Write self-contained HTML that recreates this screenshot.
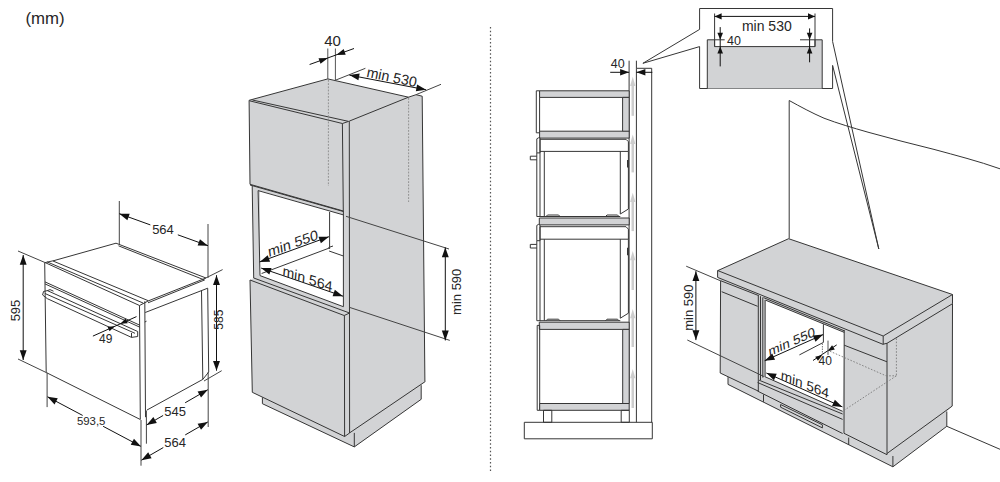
<!DOCTYPE html>
<html><head><meta charset="utf-8"><style>
html,body{margin:0;padding:0;background:#fff;width:1000px;height:482px;overflow:hidden}
svg{display:block}
text{font-family:"Liberation Sans",sans-serif}
</style></head><body>
<svg width="1000" height="482" viewBox="0 0 1000 482">
<text x="45" y="18.6" font-size="16.8" text-anchor="middle" dominant-baseline="central" fill="#262626">(mm)</text>
<line x1="18" y1="251" x2="44.7" y2="262.4" stroke="#444" stroke-width="1.0"/>
<line x1="18" y1="359" x2="46.2" y2="372.5" stroke="#444" stroke-width="1.0"/>
<line x1="23.2" y1="255" x2="23.2" y2="360" stroke="#111" stroke-width="1.0"/>
<polygon points="23.2,360 19.75,350.2 26.65,350.2" fill="#111"/>
<polygon points="23.2,255 26.65,264.8 19.75,264.8" fill="#111"/>
<text x="15.8" y="310.5" font-size="13" text-anchor="middle" dominant-baseline="central" fill="#262626" transform="rotate(-90 15.8 310.5)">595</text>
<line x1="44.7" y1="262.4" x2="46.2" y2="372.5" stroke="#363636" stroke-width="1.0"/>
<line x1="46.2" y1="372.5" x2="140.3" y2="419.5" stroke="#363636" stroke-width="1.0"/>
<line x1="44.7" y1="262.4" x2="139.5" y2="305.5" stroke="#363636" stroke-width="1.0"/>
<line x1="47.2" y1="261.9" x2="143" y2="303" stroke="#363636" stroke-width="1.0"/>
<line x1="53" y1="261" x2="148.5" y2="300.8" stroke="#363636" stroke-width="1.0"/>
<polyline points="139.5,305.5 140.3,419.5" fill="none" stroke="#363636" stroke-width="1.0" stroke-linejoin="round"/>
<polyline points="144.8,301.3 145.5,417.2" fill="none" stroke="#363636" stroke-width="1.0" stroke-linejoin="round"/>
<polyline points="139.5,305.5 148.5,300.8" fill="none" stroke="#363636" stroke-width="1.0" stroke-linejoin="round"/>
<line x1="45" y1="281.9" x2="139.8" y2="325.2" stroke="#363636" stroke-width="1.0"/>
<line x1="45" y1="283.9" x2="139.8" y2="327.2" stroke="#363636" stroke-width="1.0"/>
<line x1="144.8" y1="322" x2="146.5" y2="321.2" stroke="#363636" stroke-width="1.0"/>
<line x1="45" y1="262.6" x2="54" y2="260.6" stroke="#363636" stroke-width="1.0"/>
<line x1="54" y1="260.6" x2="116" y2="243.2" stroke="#363636" stroke-width="1.0"/>
<line x1="116" y1="243.2" x2="206" y2="278" stroke="#363636" stroke-width="1.0"/>
<line x1="118.5" y1="245.8" x2="204.5" y2="280" stroke="#363636" stroke-width="1.0"/>
<line x1="206" y1="278" x2="148.5" y2="300.8" stroke="#363636" stroke-width="1.0"/>
<line x1="204.5" y1="280" x2="148" y2="302.8" stroke="#363636" stroke-width="1.0"/>
<line x1="145.2" y1="312.5" x2="207.7" y2="288.2" stroke="#363636" stroke-width="1.0"/>
<line x1="201.5" y1="290.7" x2="202.8" y2="379.4" stroke="#363636" stroke-width="1.0"/>
<line x1="207.7" y1="288.2" x2="208.7" y2="372" stroke="#363636" stroke-width="1.0"/>
<line x1="147" y1="410" x2="202.8" y2="379.4" stroke="#363636" stroke-width="1.0"/>
<line x1="202.8" y1="379.4" x2="208.7" y2="372" stroke="#363636" stroke-width="1.0"/>
<polyline points="47.4,290.6 137.7,331.5" fill="none" stroke="#363636" stroke-width="1.0" stroke-linejoin="round"/>
<polyline points="45,293.5 135,333.3" fill="none" stroke="#363636" stroke-width="1.0" stroke-linejoin="round"/>
<polyline points="47.4,298.7 131.5,337.4" fill="none" stroke="#363636" stroke-width="1.0" stroke-linejoin="round"/>
<polyline points="47.4,290.6 43.5,291.5 42.6,295 47.4,298.7" fill="none" stroke="#363636" stroke-width="1.0" stroke-linejoin="round"/>
<polyline points="137.7,331.5 137.7,336.5 131.5,337.4 131.5,333" fill="none" stroke="#363636" stroke-width="1.0" stroke-linejoin="round"/>
<polyline points="47,290.8 50,289.6 53.5,291.2" fill="none" stroke="#363636" stroke-width="1.0" stroke-linejoin="round"/>
<line x1="92.9" y1="336.1" x2="136.5" y2="316.6" stroke="#111" stroke-width="1.0"/>
<polygon points="114.9,326.2 109.52,331.33 107.49,326.76" fill="#111"/>
<polygon points="120.3,323.7 125.68,318.57 127.71,323.14" fill="#111"/>
<text x="105.7" y="339" font-size="12" text-anchor="middle" dominant-baseline="central" fill="#262626">49</text>
<line x1="119.3" y1="201" x2="119.3" y2="244" stroke="#444" stroke-width="1.0"/>
<line x1="208" y1="224" x2="208" y2="278" stroke="#444" stroke-width="1.0"/>
<line x1="119.3" y1="213.7" x2="150.34" y2="224.9" stroke="#111" stroke-width="1.0"/>
<line x1="177.84" y1="234.82" x2="208" y2="245.7" stroke="#111" stroke-width="1.0"/>
<polygon points="208,245.7 197.61,245.62 199.95,239.13" fill="#111"/>
<polygon points="119.3,213.7 129.69,213.78 127.35,220.27" fill="#111"/>
<text x="163" y="229.2" font-size="13" text-anchor="middle" dominant-baseline="central" fill="#262626">564</text>
<line x1="205.8" y1="278" x2="222.6" y2="269.6" stroke="#444" stroke-width="1.0"/>
<line x1="204" y1="381" x2="221.7" y2="370.7" stroke="#444" stroke-width="1.0"/>
<line x1="216.5" y1="275.2" x2="216.5" y2="370.7" stroke="#111" stroke-width="1.0"/>
<polygon points="216.5,370.7 213.05,360.9 219.95,360.9" fill="#111"/>
<polygon points="216.5,275.2 219.95,285 213.05,285" fill="#111"/>
<text x="219.2" y="319.6" font-size="12" text-anchor="middle" dominant-baseline="central" fill="#262626" transform="rotate(-90 219.2 319.6)">585</text>
<line x1="47.1" y1="372.8" x2="47.1" y2="407.1" stroke="#444" stroke-width="1.0"/>
<line x1="47.5" y1="396.8" x2="82.66" y2="415.45" stroke="#111" stroke-width="1.0"/>
<line x1="103.13" y1="426.31" x2="141" y2="446.4" stroke="#111" stroke-width="1.0"/>
<polygon points="141,446.4 130.73,444.86 133.96,438.76" fill="#111"/>
<polygon points="47.5,396.8 57.77,398.34 54.54,404.44" fill="#111"/>
<text x="91.2" y="420.9" font-size="11.4" text-anchor="middle" dominant-baseline="central" fill="#262626">593,5</text>
<line x1="141" y1="420" x2="141" y2="465.7" stroke="#444" stroke-width="1.0"/>
<line x1="146.4" y1="410.5" x2="146.4" y2="443.7" stroke="#444" stroke-width="1.0"/>
<line x1="208.2" y1="372" x2="208.2" y2="427" stroke="#444" stroke-width="1.0"/>
<line x1="146.6" y1="425" x2="163.12" y2="415.47" stroke="#111" stroke-width="1.0"/>
<line x1="185.16" y1="402.76" x2="207.8" y2="389.7" stroke="#111" stroke-width="1.0"/>
<polygon points="207.8,389.7 201.03,397.58 197.59,391.61" fill="#111"/>
<polygon points="146.6,425 153.37,417.12 156.81,423.09" fill="#111"/>
<text x="175.2" y="411.4" font-size="13" text-anchor="middle" dominant-baseline="central" fill="#262626">545</text>
<line x1="141.4" y1="460.2" x2="163.31" y2="447.56" stroke="#111" stroke-width="1.0"/>
<line x1="185.22" y1="434.92" x2="207.8" y2="421.9" stroke="#111" stroke-width="1.0"/>
<polygon points="207.8,421.9 201.03,429.79 197.59,423.81" fill="#111"/>
<polygon points="141.4,460.2 148.17,452.31 151.61,458.29" fill="#111"/>
<text x="175.2" y="442" font-size="13" text-anchor="middle" dominant-baseline="central" fill="#262626">564</text>
<polygon points="249.1,100.3 327.8,78.9 408.5,97.2 416,94.7 422.2,96.2 424.9,381.5 420.8,385.6 421.2,399.3 354.3,446.9 262.4,403.7 262.4,397.5 252.3,392.3 250,280 253.7,278 252.2,185.6 250,184.3" fill="#d2d3d5"/>
<polygon points="260,190.8 343.4,214.9 343.4,306.7 260,275.6" fill="#ffffff"/>
<polyline points="249.1,100.3 327.8,78.9 408.5,97.2 349.3,121.1" fill="none" stroke="#363636" stroke-width="1.0" stroke-linejoin="round"/>
<polyline points="408.5,97.2 416,94.7 422.2,96.2 424.9,381.5" fill="none" stroke="#363636" stroke-width="1.0" stroke-linejoin="round"/>
<line x1="249.5" y1="100.8" x2="342.4" y2="123.5" stroke="#363636" stroke-width="1.0"/>
<line x1="252.4" y1="100" x2="348.6" y2="121.4" stroke="#363636" stroke-width="1.0"/>
<line x1="342.4" y1="123.5" x2="348.6" y2="121.4" stroke="#363636" stroke-width="1.0"/>
<line x1="249.1" y1="100.3" x2="250" y2="184.3" stroke="#363636" stroke-width="1.0"/>
<line x1="342.4" y1="123.5" x2="343.3" y2="211" stroke="#363636" stroke-width="1.0"/>
<line x1="349.3" y1="121.1" x2="349.6" y2="433" stroke="#363636" stroke-width="1.0"/>
<line x1="250" y1="184.3" x2="343.3" y2="211" stroke="#363636" stroke-width="1.0"/>
<line x1="328.4" y1="80" x2="328.4" y2="186" stroke="#8a8a8a" stroke-width="0.9" stroke-dasharray="1.8 1.4"/>
<line x1="408.6" y1="98" x2="408.6" y2="202" stroke="#8a8a8a" stroke-width="0.9" stroke-dasharray="1.8 1.4"/>
<line x1="252.2" y1="185.6" x2="253.7" y2="278" stroke="#363636" stroke-width="1.0"/>
<line x1="258.1" y1="190.6" x2="260" y2="275.6" stroke="#363636" stroke-width="1.0"/>
<line x1="258.1" y1="190.6" x2="343.4" y2="214.9" stroke="#363636" stroke-width="1.0"/>
<line x1="250" y1="185" x2="343.3" y2="211.5" stroke="#363636" stroke-width="1.0"/>
<line x1="329.6" y1="212" x2="329.6" y2="249" stroke="#363636" stroke-width="1.0"/>
<line x1="261.6" y1="273.5" x2="329.1" y2="248.1" stroke="#363636" stroke-width="1.0"/>
<line x1="329.1" y1="251" x2="343.4" y2="256" stroke="#363636" stroke-width="1.0"/>
<line x1="328.5" y1="247.5" x2="333" y2="246" stroke="#363636" stroke-width="1.0"/>
<line x1="343.4" y1="211" x2="343.4" y2="306.7" stroke="#363636" stroke-width="1.0"/>
<line x1="260" y1="275.6" x2="343.4" y2="306.7" stroke="#363636" stroke-width="1.0"/>
<line x1="250" y1="280" x2="344.2" y2="315.5" stroke="#363636" stroke-width="1.0"/>
<line x1="253.7" y1="278" x2="349.6" y2="313" stroke="#363636" stroke-width="1.0"/>
<line x1="344.2" y1="315.5" x2="349.6" y2="313" stroke="#363636" stroke-width="1.0"/>
<line x1="250" y1="280" x2="252.3" y2="392.3" stroke="#363636" stroke-width="1.0"/>
<line x1="252.3" y1="392.3" x2="344.6" y2="436.5" stroke="#363636" stroke-width="1.0"/>
<line x1="344.4" y1="315.5" x2="344.6" y2="436.5" stroke="#363636" stroke-width="1.0"/>
<line x1="344.6" y1="436.5" x2="349.6" y2="433" stroke="#363636" stroke-width="1.0"/>
<line x1="262.4" y1="397.5" x2="262.4" y2="403.7" stroke="#363636" stroke-width="1.0"/>
<line x1="262.4" y1="403.7" x2="354.3" y2="446.9" stroke="#363636" stroke-width="1.0"/>
<line x1="354.3" y1="432.9" x2="354.3" y2="446.9" stroke="#363636" stroke-width="1.0"/>
<line x1="349.6" y1="432.9" x2="425.3" y2="381.5" stroke="#363636" stroke-width="1.0"/>
<line x1="421.2" y1="385.2" x2="421.2" y2="399.3" stroke="#363636" stroke-width="1.0"/>
<line x1="421.2" y1="399.3" x2="354.3" y2="446.9" stroke="#363636" stroke-width="1.0"/>
<line x1="327.8" y1="48.5" x2="327.8" y2="79" stroke="#555" stroke-width="1.0"/>
<line x1="335.4" y1="48.5" x2="335.4" y2="80.5" stroke="#555" stroke-width="1.0"/>
<line x1="309.6" y1="64.5" x2="354" y2="48.5" stroke="#111" stroke-width="1.0"/>
<polygon points="328,58 320.55,63.87 318.52,58.23" fill="#111"/>
<polygon points="336.2,54.9 343.65,49.03 345.68,54.67" fill="#111"/>
<text x="332.6" y="40.3" font-size="15" text-anchor="middle" dominant-baseline="central" fill="#262626">40</text>
<line x1="334.7" y1="80.5" x2="365.4" y2="68.3" stroke="#444" stroke-width="1.0"/>
<line x1="416" y1="94.7" x2="441" y2="84.3" stroke="#444" stroke-width="1.0"/>
<line x1="349.4" y1="75.1" x2="426.1" y2="89.8" stroke="#111" stroke-width="1.0"/>
<polygon points="426.1,89.8 415.83,91.34 417.12,84.57" fill="#111"/>
<polygon points="349.4,75.1 359.67,73.56 358.38,80.33" fill="#111"/>
<text x="0" y="0" font-size="14" text-anchor="middle" dominant-baseline="central" fill="#262626" transform="matrix(1 0.21 -0.2 1 391.8 77)">min 530</text>
<line x1="259.7" y1="261.9" x2="328.9" y2="236.7" stroke="#111" stroke-width="1.0"/>
<polygon points="328.9,236.7 320.87,243.3 318.51,236.81" fill="#111"/>
<polygon points="259.7,261.9 267.73,255.3 270.09,261.79" fill="#111"/>
<text x="0" y="0" font-size="14" text-anchor="middle" dominant-baseline="central" fill="#262626" transform="matrix(1 -0.36 0.14 1 293 243.3)">min 550</text>
<line x1="261.2" y1="268.1" x2="343" y2="296.2" stroke="#111" stroke-width="1.0"/>
<polygon points="343,296.2 332.61,296.28 334.85,289.75" fill="#111"/>
<polygon points="261.2,268.1 271.59,268.02 269.35,274.55" fill="#111"/>
<text x="0" y="0" font-size="14" text-anchor="middle" dominant-baseline="central" fill="#262626" transform="matrix(1 0.33 -0.09 1 307.5 278.7)">min 564</text>
<line x1="346" y1="216.3" x2="449" y2="249" stroke="#444" stroke-width="1.0"/>
<line x1="349.6" y1="307.4" x2="449.8" y2="340.4" stroke="#444" stroke-width="1.0"/>
<line x1="445.3" y1="247.4" x2="445.3" y2="340.4" stroke="#111" stroke-width="1.0"/>
<polygon points="445.3,340.4 441.85,330.6 448.75,330.6" fill="#111"/>
<polygon points="445.3,247.4 448.75,257.2 441.85,257.2" fill="#111"/>
<text x="456.3" y="291.8" font-size="13" text-anchor="middle" dominant-baseline="central" fill="#262626" transform="rotate(-90 456.3 291.8)">min 590</text>
<line x1="490.5" y1="27" x2="490.5" y2="472" stroke="#555" stroke-width="1.2" stroke-dasharray="1.6 2.15"/>
<polyline points="636.4,422.3 636.4,68.3 651.7,68.3 651.7,422.3" fill="none" stroke="#363636" stroke-width="1.0" stroke-linejoin="round"/>
<line x1="636.4" y1="60.7" x2="636.4" y2="68.3" stroke="#363636" stroke-width="1.0"/>
<line x1="629.1" y1="60.7" x2="629.1" y2="403.5" stroke="#363636" stroke-width="1.0"/>
<line x1="610.2" y1="72.3" x2="629.1" y2="72.3" stroke="#111" stroke-width="1.0"/>
<polygon points="629.1,72.3 620.1,75.5 620.1,69.1" fill="#111"/>
<line x1="652.3" y1="72.3" x2="636.4" y2="72.3" stroke="#111" stroke-width="1.0"/>
<polygon points="636.4,72.3 645.4,69.1 645.4,75.5" fill="#111"/>
<text x="617.8" y="63.8" font-size="12.5" text-anchor="middle" dominant-baseline="central" fill="#262626">40</text>
<line x1="642.9" y1="63.3" x2="699.6" y2="29.4" stroke="#363636" stroke-width="1.0"/>
<line x1="642.9" y1="63.3" x2="699.6" y2="46.6" stroke="#363636" stroke-width="1.0"/>
<rect x="631.5" y="84.8" width="2.5" height="31.0" fill="#cdcdcd"/>
<polygon points="632.75,76.8 635.4,86.1 630.1,86.1" fill="#cdcdcd"/>
<rect x="631.5" y="142.6" width="2.5" height="29.80000000000001" fill="#cdcdcd"/>
<polygon points="632.75,134.6 635.4,143.9 630.1,143.9" fill="#cdcdcd"/>
<rect x="631.5" y="200.8" width="2.5" height="30.299999999999983" fill="#cdcdcd"/>
<polygon points="632.75,192.8 635.4,202.10000000000002 630.1,202.10000000000002" fill="#cdcdcd"/>
<rect x="631.5" y="259" width="2.5" height="31" fill="#cdcdcd"/>
<polygon points="632.75,251 635.4,260.3 630.1,260.3" fill="#cdcdcd"/>
<rect x="631.5" y="317" width="2.5" height="30" fill="#cdcdcd"/>
<polygon points="632.75,309 635.4,318.3 630.1,318.3" fill="#cdcdcd"/>
<rect x="631.5" y="377" width="2.5" height="31" fill="#cdcdcd"/>
<polygon points="632.75,369 635.4,378.3 630.1,378.3" fill="#cdcdcd"/>
<polygon points="536.3,90.8 539.6,90.8 539.6,132.8 536.3,132.8" fill="none" stroke="#363636" stroke-width="1.0" stroke-linejoin="round"/>
<polygon points="539.6,90.8 629.2,90.8 629.2,97.4 539.6,97.4" fill="#d2d3d5" stroke="#363636" stroke-width="1.0" stroke-linejoin="round"/>
<polygon points="622.6,97.4 629.2,97.4 629.2,131.5 622.6,131.5" fill="#d2d3d5" stroke="#363636" stroke-width="1.0" stroke-linejoin="round"/>
<polygon points="539.6,131.2 629.2,131.2 629.2,138.1 539.6,138.1" fill="#d2d3d5" stroke="#363636" stroke-width="1.0" stroke-linejoin="round"/>
<polygon points="536.8,138.8 538.5,137.8 540,137.8 540,152.9 536.8,152.9" fill="none" stroke="#363636" stroke-width="1.0" stroke-linejoin="round"/>
<polyline points="536.8,152.9 536.8,216.5 540,216.5" fill="none" stroke="#363636" stroke-width="1.0" stroke-linejoin="round"/>
<polygon points="540,139.3 626,139.3 628.4,141.7 628.4,151.4 540,151.4" fill="none" stroke="#363636" stroke-width="1.0" stroke-linejoin="round"/>
<line x1="540" y1="151.4" x2="540" y2="217" stroke="#363636" stroke-width="1.0"/>
<line x1="544.3" y1="151.4" x2="544.3" y2="216.5" stroke="#363636" stroke-width="1.0"/>
<polyline points="620.3,151.4 620.3,214 628.4,209 628.4,151.4" fill="none" stroke="#363636" stroke-width="1.0" stroke-linejoin="round"/>
<line x1="540" y1="216.5" x2="620.3" y2="216.5" stroke="#363636" stroke-width="1.0"/>
<polyline points="546,216.5 547.5,215 558.6,215 560,216.5" fill="none" stroke="#363636" stroke-width="1.0" stroke-linejoin="round"/>
<polyline points="605.5,216.5 607,215 617.5,215 619,216.5" fill="none" stroke="#363636" stroke-width="1.0" stroke-linejoin="round"/>
<line x1="627.7" y1="159.9" x2="627.7" y2="167.4" stroke="#363636" stroke-width="1.4"/>
<polyline points="536.8,156.2 530.3,156.2 530.3,159.8 536.8,159.8" fill="none" stroke="#363636" stroke-width="1.0" stroke-linejoin="round"/>
<polygon points="536.8,225.4 538.5,224.4 540,224.4 540,240.7 536.8,240.7" fill="none" stroke="#363636" stroke-width="1.0" stroke-linejoin="round"/>
<polyline points="536.8,240.7 536.8,320.7 540,320.7" fill="none" stroke="#363636" stroke-width="1.0" stroke-linejoin="round"/>
<polygon points="540,226.7 626,226.7 628.4,229.1 628.4,239.2 540,239.2" fill="none" stroke="#363636" stroke-width="1.0" stroke-linejoin="round"/>
<line x1="540" y1="239.2" x2="540" y2="321.2" stroke="#363636" stroke-width="1.0"/>
<line x1="544.3" y1="239.2" x2="544.3" y2="320.7" stroke="#363636" stroke-width="1.0"/>
<polyline points="620.3,239.2 620.3,318.2 628.4,313.2 628.4,239.2" fill="none" stroke="#363636" stroke-width="1.0" stroke-linejoin="round"/>
<line x1="540" y1="320.7" x2="620.3" y2="320.7" stroke="#363636" stroke-width="1.0"/>
<polyline points="546,320.7 547.5,319.2 558.6,319.2 560,320.7" fill="none" stroke="#363636" stroke-width="1.0" stroke-linejoin="round"/>
<polyline points="605.5,320.7 607,319.2 617.5,319.2 619,320.7" fill="none" stroke="#363636" stroke-width="1.0" stroke-linejoin="round"/>
<line x1="627.7" y1="247.7" x2="627.7" y2="255.2" stroke="#363636" stroke-width="1.4"/>
<polyline points="536.8,244.4 530.3,244.4 530.3,248 536.8,248" fill="none" stroke="#363636" stroke-width="1.0" stroke-linejoin="round"/>
<polygon points="539.3,218 629.2,218 629.2,224.9 539.3,224.9" fill="#d2d3d5" stroke="#363636" stroke-width="1.0" stroke-linejoin="round"/>
<polygon points="539.3,322.2 629.2,322.2 629.2,329.4 539.3,329.4" fill="#d2d3d5" stroke="#363636" stroke-width="1.0" stroke-linejoin="round"/>
<polygon points="537.2,325.4 539.7,325.4 539.7,410.3 537.2,410.3" fill="none" stroke="#363636" stroke-width="1.0" stroke-linejoin="round"/>
<polygon points="622.7,329.4 629.2,329.4 629.2,403.5 622.7,403.5" fill="#d2d3d5" stroke="#363636" stroke-width="1.0" stroke-linejoin="round"/>
<polygon points="539.7,403.5 629.2,403.5 629.2,410.3 539.7,410.3" fill="#d2d3d5" stroke="#363636" stroke-width="1.0" stroke-linejoin="round"/>
<polygon points="543.5,410.3 551.8,410.3 551.8,422.3 543.5,422.3" fill="none" stroke="#363636" stroke-width="1.0" stroke-linejoin="round"/>
<polygon points="621.2,410.3 629.3,410.3 629.3,422.3 621.2,422.3" fill="none" stroke="#363636" stroke-width="1.0" stroke-linejoin="round"/>
<polygon points="524.3,422.3 652.3,422.3 652.3,438.8 524.3,438.8" fill="none" stroke="#363636" stroke-width="1.0" stroke-linejoin="round"/>
<polyline points="699.6,29.4 699.6,8.5 832.6,8.5 832.6,41.5" fill="none" stroke="#363636" stroke-width="1.0" stroke-linejoin="round"/>
<polyline points="699.6,46.6 699.6,88.5 832.6,88.5 832.6,65.4" fill="none" stroke="#363636" stroke-width="1.0" stroke-linejoin="round"/>
<polyline points="707.3,88.5 707.3,39.8 714.6,39.8 714.6,46.6 815,46.6 815,39.8 822.2,39.8 822.2,88.5" fill="#d2d3d5" stroke="#363636" stroke-width="1.0" stroke-linejoin="round"/>
<line x1="714.6" y1="13.5" x2="714.6" y2="46.6" stroke="#363636" stroke-width="1.0"/>
<line x1="815" y1="13.5" x2="815" y2="46.6" stroke="#363636" stroke-width="1.0"/>
<line x1="714.6" y1="16.4" x2="815" y2="16.4" stroke="#111" stroke-width="1.0"/>
<polygon points="815,16.4 808,19.6 808,13.2" fill="#111"/>
<polygon points="714.6,16.4 721.6,13.2 721.6,19.6" fill="#111"/>
<text x="766.8" y="26" font-size="14" text-anchor="middle" dominant-baseline="central" fill="#262626">min 530</text>
<line x1="720.2" y1="27.1" x2="720.2" y2="66.4" stroke="#111" stroke-width="1.0"/>
<polygon points="720.2,39.8 717.4,32.8 723,32.8" fill="#111"/>
<polygon points="720.2,46.6 723,53.6 717.4,53.6" fill="#111"/>
<line x1="714.6" y1="39.8" x2="724.7" y2="39.8" stroke="#363636" stroke-width="1.0"/>
<text x="734" y="40.7" font-size="12.5" text-anchor="middle" dominant-baseline="central" fill="#262626">40</text>
<line x1="809.6" y1="28.4" x2="809.6" y2="62.3" stroke="#111" stroke-width="1.0"/>
<polygon points="809.6,39.8 806.8,32.8 812.4,32.8" fill="#111"/>
<polygon points="809.6,46.6 812.4,53.6 806.8,53.6" fill="#111"/>
<line x1="800" y1="39.8" x2="815" y2="39.8" stroke="#363636" stroke-width="1.0"/>
<line x1="832.6" y1="41.5" x2="878.8" y2="249" stroke="#363636" stroke-width="1.0"/>
<line x1="832.6" y1="65.4" x2="878.8" y2="249" stroke="#363636" stroke-width="1.0"/>
<line x1="789.2" y1="100.5" x2="789.2" y2="238.5" stroke="#363636" stroke-width="1.0"/>
<path d="M789.2,100.5 C800,106.5 812,113 824,118.2 C838,123.5 852,127.6 868,132.2 C890,138.4 912,143.9 934,149.4 C956,155.4 978,161 1000,168.8" fill="none" stroke="#363636" stroke-width="1"/>
<polygon points="717.6,270.4 788.6,238.7 952.5,294.5 952.5,303.7 952.2,406.1 946.8,411.5 946.8,426.3 892.9,466.8 728,384.4 728,377.1 720.2,373 720.6,280.7 717.6,277.4" fill="#d2d3d5"/>
<polygon points="765.6,300.4 844.3,332.6 842.6,411.3 765.1,376.6" fill="#ffffff"/>
<polygon points="717.8,270.6 788.6,238.7 952.5,294.5 883.2,336" fill="none" stroke="#363636" stroke-width="1.0" stroke-linejoin="round"/>
<polyline points="717.6,270.4 717.6,277.4 883.2,344.4 883.2,336" fill="none" stroke="#363636" stroke-width="1.0" stroke-linejoin="round"/>
<polyline points="883.2,344.2 887,343.3 952.5,303.7 952.5,294.5" fill="none" stroke="#363636" stroke-width="1.0" stroke-linejoin="round"/>
<line x1="720.6" y1="280.7" x2="720.2" y2="373" stroke="#363636" stroke-width="1.0"/>
<line x1="720.2" y1="373" x2="758.3" y2="391.1" stroke="#363636" stroke-width="1.0"/>
<line x1="720.6" y1="280.7" x2="758.7" y2="295.6" stroke="#363636" stroke-width="1.0"/>
<line x1="721.7" y1="291.7" x2="757.6" y2="306.3" stroke="#363636" stroke-width="1.0"/>
<line x1="758.3" y1="295.3" x2="758.3" y2="391.1" stroke="#363636" stroke-width="1.0"/>
<line x1="760.5" y1="296.2" x2="760.5" y2="380" stroke="#363636" stroke-width="1.0"/>
<line x1="762.8" y1="297.4" x2="762.8" y2="377.6" stroke="#363636" stroke-width="1.0"/>
<line x1="765.1" y1="300" x2="765.1" y2="376.6" stroke="#363636" stroke-width="1.0"/>
<polyline points="728,377.1 728,384.4 892.9,466.8" fill="none" stroke="#363636" stroke-width="1.0" stroke-linejoin="round"/>
<line x1="763.5" y1="297.6" x2="844.3" y2="330.8" stroke="#363636" stroke-width="1.0"/>
<line x1="765.6" y1="300.2" x2="844.3" y2="332.4" stroke="#363636" stroke-width="1.0"/>
<line x1="823.4" y1="324.2" x2="823.4" y2="342.4" stroke="#363636" stroke-width="1.0"/>
<line x1="799.4" y1="354.9" x2="823.4" y2="342.4" stroke="#363636" stroke-width="1.0"/>
<line x1="844.2" y1="330" x2="844" y2="433.3" stroke="#363636" stroke-width="1.0"/>
<line x1="764.7" y1="376.6" x2="842.6" y2="411.3" stroke="#363636" stroke-width="1.0"/>
<line x1="759.1" y1="380.2" x2="842.6" y2="414" stroke="#363636" stroke-width="1.0"/>
<line x1="757.6" y1="382.5" x2="842.6" y2="419.4" stroke="#363636" stroke-width="1.0"/>
<line x1="757.6" y1="391.1" x2="842.6" y2="433.5" stroke="#363636" stroke-width="1.0"/>
<line x1="763.5" y1="394.5" x2="763.5" y2="401.8" stroke="#363636" stroke-width="1.0"/>
<polygon points="780.6,404.5 822.4,424.8 822.4,427.9 780.6,407.2" fill="none" stroke="#363636" stroke-width="1.0" stroke-linejoin="round"/>
<line x1="844.2" y1="345.2" x2="887" y2="361.8" stroke="#363636" stroke-width="1.0"/>
<line x1="844" y1="433.3" x2="887" y2="454.7" stroke="#363636" stroke-width="1.0"/>
<line x1="887" y1="343.3" x2="887" y2="454.7" stroke="#363636" stroke-width="1.0"/>
<line x1="887" y1="453.5" x2="952.2" y2="406.1" stroke="#363636" stroke-width="1.0"/>
<line x1="952.5" y1="303.7" x2="952.2" y2="406.1" stroke="#363636" stroke-width="1.0"/>
<polyline points="892.9,466.8 946.8,426.3 946.8,411.5" fill="none" stroke="#363636" stroke-width="1.0" stroke-linejoin="round"/>
<line x1="848.7" y1="437.6" x2="848.7" y2="445" stroke="#363636" stroke-width="1.0"/>
<line x1="892.9" y1="456" x2="892.9" y2="466.8" stroke="#363636" stroke-width="1.0"/>
<line x1="946.8" y1="426.3" x2="1000" y2="449.3" stroke="#363636" stroke-width="1.0"/>
<line x1="896.4" y1="338.4" x2="896.4" y2="375.8" stroke="#7a7a7a" stroke-width="0.9" stroke-dasharray="1.6 1.6"/>
<line x1="829.9" y1="351.2" x2="886" y2="375.8" stroke="#7a7a7a" stroke-width="0.9" stroke-dasharray="1.6 1.6"/>
<line x1="886" y1="375.8" x2="896.4" y2="375.8" stroke="#7a7a7a" stroke-width="0.9" stroke-dasharray="1.6 1.6"/>
<line x1="844" y1="410.4" x2="896.4" y2="375.8" stroke="#7a7a7a" stroke-width="0.9" stroke-dasharray="1.6 1.6"/>
<line x1="686.2" y1="266.2" x2="720.5" y2="280.8" stroke="#444" stroke-width="1.0"/>
<line x1="687.3" y1="340" x2="763.9" y2="376.5" stroke="#444" stroke-width="1.0"/>
<line x1="695.9" y1="271.2" x2="695.9" y2="340.1" stroke="#111" stroke-width="1.0"/>
<polygon points="695.9,340.1 692.45,330.3 699.35,330.3" fill="#111"/>
<polygon points="695.9,271.2 699.35,281 692.45,281" fill="#111"/>
<text x="688.3" y="307.7" font-size="13" text-anchor="middle" dominant-baseline="central" fill="#262626" transform="rotate(-90 688.3 307.7)">min 590</text>
<line x1="764.7" y1="360.7" x2="823.1" y2="334.6" stroke="#111" stroke-width="1.0"/>
<polygon points="823.1,334.6 815.56,341.75 812.75,335.45" fill="#111"/>
<polygon points="764.7,360.7 772.24,353.55 775.05,359.85" fill="#111"/>
<text x="0" y="0" font-size="13" text-anchor="middle" dominant-baseline="central" fill="#262626" transform="matrix(1 -0.45 0.14 1 791.7 341.8)">min 550</text>
<line x1="766.4" y1="373" x2="842.4" y2="406.9" stroke="#111" stroke-width="1.0"/>
<polygon points="842.4,406.9 832.04,406.06 834.86,399.76" fill="#111"/>
<polygon points="766.4,373 776.76,373.84 773.94,380.14" fill="#111"/>
<text x="0" y="0" font-size="13.5" text-anchor="middle" dominant-baseline="central" fill="#262626" transform="matrix(1 0.4 -0.09 1 805 384)">min 564</text>
<line x1="813" y1="360.5" x2="836.7" y2="344.9" stroke="#111" stroke-width="1.0"/>
<polygon points="822.4,354.9 817.93,360.84 815.18,356.67" fill="#111"/>
<polygon points="827.6,351.2 832.07,345.26 834.82,349.43" fill="#111"/>
<line x1="822.4" y1="343.5" x2="822.4" y2="355" stroke="#666" stroke-width="0.9" stroke-dasharray="1.5 1"/>
<line x1="828" y1="340.6" x2="828" y2="354.9" stroke="#555" stroke-width="1.0"/>
<text x="825.3" y="361.2" font-size="12" text-anchor="middle" dominant-baseline="central" fill="#262626">40</text>
</svg></body></html>
